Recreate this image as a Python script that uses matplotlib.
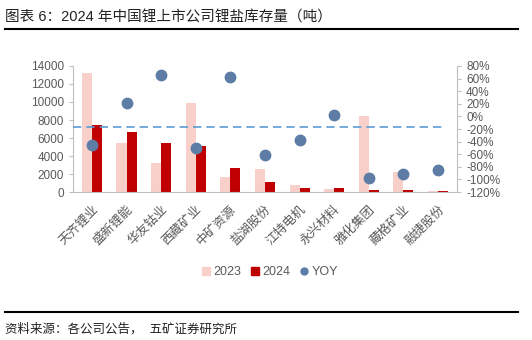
import numpy as np
import matplotlib
matplotlib.use("Agg")
import matplotlib.pyplot as plt
import matplotlib.transforms as mtransforms
from matplotlib.lines import Line2D
from matplotlib.ticker import FuncFormatter

plt.rcParams['font.family'] = ['Liberation Sans', 'Noto Sans CJK SC', 'DejaVu Sans']

# 数据（吨）
companies = ['天齐锂业', '盛新锂能', '华友钴业', '西藏矿业', '中矿资源', '盐湖股份',
             '江特电机', '永兴材料', '雅化集团', '藏格矿业', '融捷股份']
stock_2023 = [13200, 5400, 3200, 9900, 1700, 2600, 750, 380, 8400, 2200, 80]
stock_2024 = [7400, 6700, 5400, 5100, 2700, 1100, 400, 400, 200, 200, 100]
yoy = [-45, 22, 65, -50, 62, -61, -38, 3, -97, -92, -85]
yoy_total = -17

c23 = '#F8CFC9'
c24 = '#C00000'
cyoy = '#5E7DA6'
grey = '#595959'
axc = '#BFBFBF'

fig = plt.figure(figsize=(5.32, 3.40), dpi=100)
ax = fig.add_axes([0.137, 0.435, 0.722, 0.371])
ax2 = ax.twinx()

x = np.arange(len(companies))
w = 0.29
ax.bar(x - w / 2, stock_2023, w, color=c23, zorder=2)
ax.bar(x + w / 2, stock_2024, w, color=c24, zorder=2)

ax2.axhline(yoy_total, xmin=0, xmax=0.97, color='#5B9BD5', lw=1.2, ls=(0, (5, 3)))
ax2.plot(x, yoy, 'o', color=cyoy, ms=7.5, zorder=3)

ax.set_xlim(-0.55, len(companies) - 0.45)
ax.set_ylim(0, 14000)
ax.set_yticks(range(0, 14001, 2000))
ax2.set_ylim(-120, 80)
ax2.set_yticks(range(-120, 81, 20))
ax2.yaxis.set_major_formatter(FuncFormatter(lambda v, p: '%d%%' % v))

ax.set_xticks(x)
ax.set_xticklabels(companies, rotation=45, ha='right', rotation_mode='anchor')
shift = mtransforms.ScaledTranslation(4 / 72, 0, fig.dpi_scale_trans)
for lab in ax.get_xticklabels():
    lab.set_transform(lab.get_transform() + shift)

for a in (ax, ax2):
    for s in a.spines.values():
        s.set_visible(False)
    a.tick_params(colors=grey, labelsize=8.5, length=3, width=0.8)
    a.tick_params(axis='y', color=axc)
ax.spines['left'].set_visible(True)
ax.spines['left'].set_color(axc)
ax.spines['bottom'].set_visible(True)
ax.spines['bottom'].set_color(axc)
ax2.spines['right'].set_visible(True)
ax2.spines['right'].set_color(axc)
ax.tick_params(axis='x', length=0, labelsize=9, pad=8)

handles = [Line2D([], [], ls='none', marker='s', color=c23, ms=6),
           Line2D([], [], ls='none', marker='s', color=c24, ms=6),
           Line2D([], [], ls='none', marker='o', color=cyoy, ms=5)]
fig.legend(handles, ['2023', '2024', 'YOY'], loc='center', bbox_to_anchor=(0.505, 0.2),
           ncol=3, frameon=False, fontsize=9, labelcolor=grey,
           handletextpad=0.1, columnspacing=0.6, handlelength=1.0)

fig.text(0.01, 0.948, '图表 6：2024 年中国锂上市公司锂盐库存量（吨）', fontsize=10.5,
         color='#222222', va='center')
fig.add_artist(Line2D([0.01, 0.973], [0.914, 0.914], color='black', lw=1.5))
fig.add_artist(Line2D([0.01, 0.973], [0.083, 0.083], color='black', lw=1.5))
fig.text(0.01, 0.032, '资料来源：各公司公告，  五矿证券研究所', fontsize=9,
         color='#222222', va='center')

fig.savefig('out.png', dpi=100)
